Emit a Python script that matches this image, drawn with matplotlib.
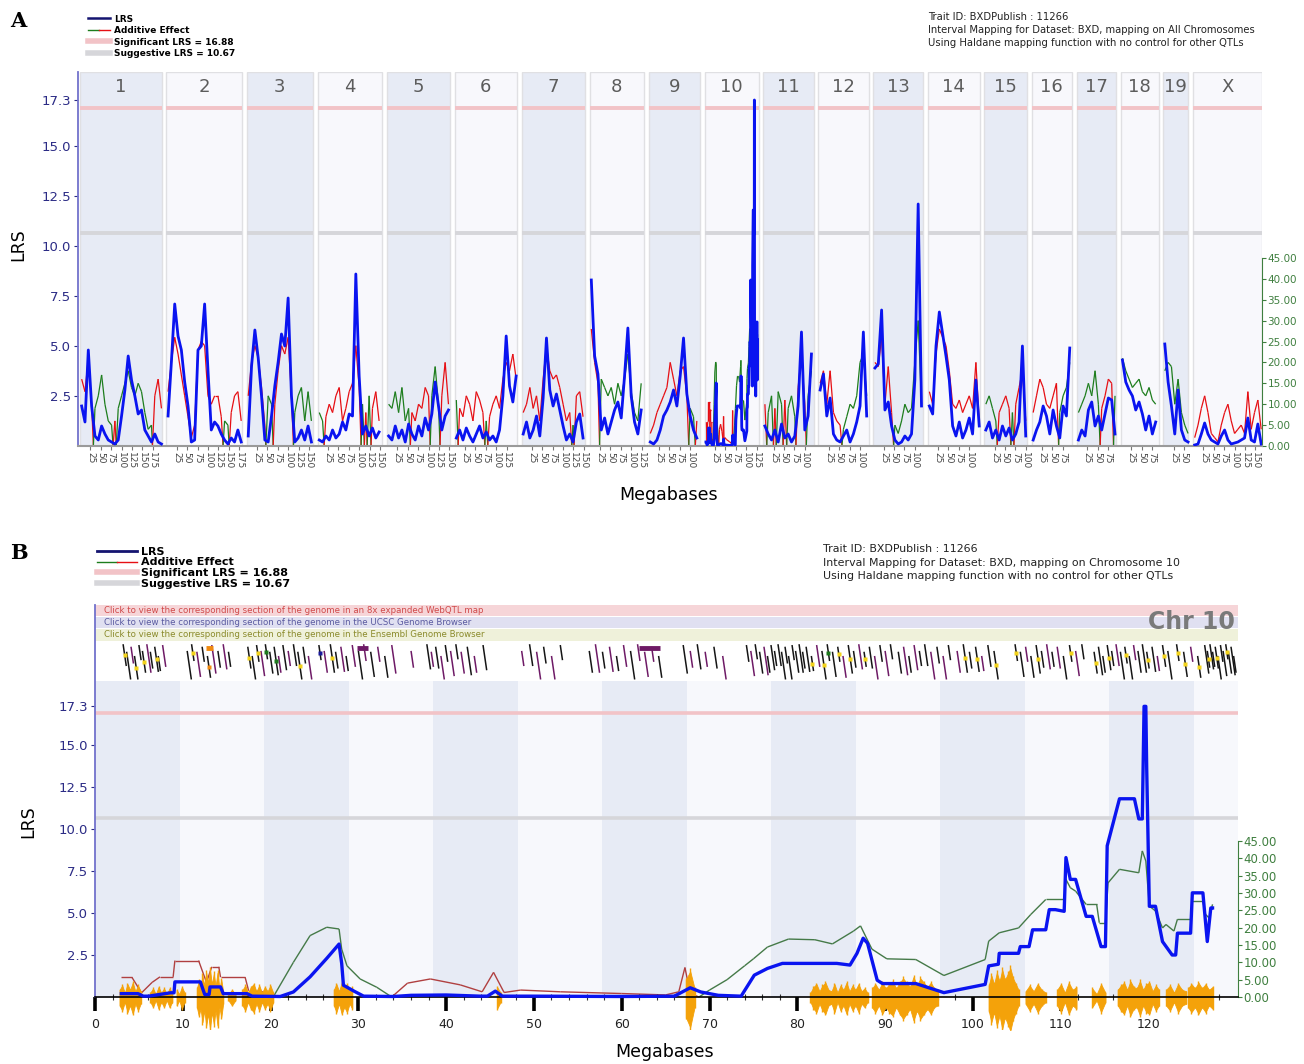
import numpy as np
import matplotlib.pyplot as plt
from matplotlib.lines import Line2D
from matplotlib.legend_handler import HandlerTuple
from matplotlib.collections import LineCollection

plt.rcParams['font.family'] = ['DejaVu Sans']

W, H = 1304, 1064

# ---------------- genome-wide scan (panel A) ----------------
CHROMS = ['1', '2', '3', '4', '5', '6', '7', '8', '9', '10',
          '11', '12', '13', '14', '15', '16', '17', '18', '19', 'X']
CHR_LEN = [197, 182, 160, 156, 152, 150, 153, 131, 124, 130,
           122, 121, 120, 125, 103, 98, 95, 91, 61, 166]

# LRS and additive effect every 8 Mb (first marker at 4 Mb); additive > 0 = red, < 0 = green
LRS_1 = [2.0, 1.2, 4.8, 2.0, 0.5, 0.3, 1.0, 0.6, 0.3, 0.2, 0.1, 0.3, 1.5, 2.8, 4.5, 3.3, 2.5, 1.6, 1.8, 0.8, 0.5, 0.2, 0.6, 0.2, 0.1]
ADD_1 = [16, 13, 21, 10, -9, -12, -17, -10, -6, -5, 6, -9, -12, -15, -18, -14, -12, -15, -13, -8, -4, -5, 12, 16, 9]
LRS_2 = [1.5, 4.2, 7.1, 5.5, 4.8, 3.2, 2.0, 0.2, 0.3, 4.8, 5.0, 7.1, 3.8, 0.8, 1.2, 1.0, 0.6, 0.3, 0.1, 0.4, 0.2, 0.8, 0.2]
ADD_2 = [13, 20, 26, 22, 17, 12, 7, 2, 5, 23, 25, 24, 12, 10, 12, 12, 7, -6, -5, 8, 12, 13, 6]
LRS_3 = [0.5, 4.0, 5.8, 4.4, 2.5, 0.3, 0.2, 1.5, 3.0, 4.2, 5.6, 5.0, 7.4, 2.5, 0.2, 0.4, 0.8, 0.3, 1.0, 0.2]
ADD_3 = [12, 20, 24, 21, 14, 5, -12, -10, 10, 18, 24, 22, 26, 12, -8, -12, -14, -6, -13, -6]
LRS_4 = [0.3, 0.2, 0.5, 0.3, 0.8, 0.4, 0.6, 1.2, 0.8, 1.6, 1.5, 8.6, 3.5, 0.6, 1.0, 0.5, 0.9, 0.4, 0.7]
ADD_4 = [-8, -6, 7, 10, 8, 12, 14, 6, 9, 13, 15, 24, 14, -10, 8, -12, 9, 13, 6]
LRS_5 = [0.5, 0.3, 1.0, 0.4, 0.8, 0.2, 1.1, 0.6, 0.3, 1.0, 0.5, 1.4, 0.8, 1.6, 3.2, 2.0, 0.8, 1.5, 1.8]
ADD_5 = [-10, -9, -13, -8, -14, -6, -9, 8, 6, 10, 9, 14, 12, -12, -19, -10, 12, 20, 10]
LRS_6 = [0.4, 0.8, 0.3, 0.9, 0.5, 0.2, 0.6, 1.0, 0.4, 0.7, 0.3, 0.5, 0.2, 0.8, 2.5, 5.5, 3.0, 2.2, 3.5]
ADD_6 = [-11, 9, 7, 12, 10, 6, 13, 11, 8, -6, 7, 10, 12, 9, 16, 20, 18, 22, 16]
LRS_7 = [0.6, 1.2, 0.4, 0.8, 1.5, 0.5, 2.4, 5.4, 2.8, 2.0, 2.6, 1.8, 1.0, 0.3, 0.6, 0.2, 1.2, 1.6, 0.4]
ADD_7 = [8, 10, 14, 9, 12, 6, 16, 24, 18, 16, 17, 14, 10, 6, 8, -5, 12, 13, 7]
LRS_8 = [8.3, 4.5, 3.6, 0.8, 1.4, 0.6, 1.2, 1.8, 2.2, 1.4, 3.5, 5.9, 2.5, 1.2, 0.6, 1.8]
ADD_8 = [28, 20, 15, -16, -14, -12, -14, -10, -15, -12, -16, -22, -13, -8, -6, -15]
LRS_9 = [0.2, 0.1, 0.3, 0.8, 1.5, 1.8, 2.2, 2.8, 2.0, 3.5, 5.4, 2.6, 1.5, 0.8, 0.4]
ADD_9 = [3, 5, 8, 10, 12, 14, 20, 16, 12, 18, 19, 12, -9, -7, 6]
LRS_11 = [1.0, 0.6, 0.3, 0.8, 0.2, 1.1, 0.4, 0.6, 0.2, 0.5, 2.0, 5.7, 0.8, 1.5, 4.6]
ADD_11 = [10, -8, -12, 9, -13, -10, 11, -9, -12, -7, 14, 22, 10, -12, -18]
LRS_12 = [2.8, 3.6, 1.5, 2.4, 0.6, 0.3, 0.2, 0.5, 0.8, 0.2, 0.6, 1.2, 2.0, 5.7, 1.5]
ADD_12 = [15, 18, 10, 18, 8, 6, 5, -4, -7, -10, -9, -12, -20, -22, -12]
LRS_13 = [3.9, 4.1, 6.8, 1.8, 2.2, 1.0, 0.3, 0.1, 0.2, 0.5, 0.3, 0.6, 3.3, 12.1, 2.0]
ADD_13 = [20, 19, 26, 10, 19, 8, -5, -3, -6, -10, -8, -9, -20, -30, -10]
LRS_14 = [2.0, 1.6, 5.0, 6.7, 5.6, 4.5, 3.3, 1.0, 0.5, 1.2, 0.4, 0.8, 1.4, 0.6, 3.3, 1.0]
ADD_14 = [13, 10, 22, 28, 26, 24, 18, 10, 9, 11, 8, 10, 12, 9, 20, 6]
LRS_15 = [0.8, 1.2, 0.4, 0.8, 0.3, 1.0, 0.5, 0.9, 0.3, 0.6, 1.2, 5.0, 0.5]
ADD_15 = [-10, -12, -9, -6, 8, 10, 12, 9, -8, 10, 14, 18, 6]
LRS_16 = [0.3, 0.8, 1.2, 2.0, 1.5, 0.6, 1.8, 1.0, 0.4, 2.0, 1.5, 4.9]
ADD_16 = [8, 12, 16, 14, 10, 9, 12, 15, -8, -12, -14, -20]
LRS_17 = [0.3, 0.8, 0.5, 1.8, 2.2, 1.0, 1.5, 0.8, 1.6, 2.4, 2.3, 0.6]
ADD_17 = [-8, -10, -12, -15, -12, -18, -10, 9, 12, 16, 15, -12]
LRS_18 = [4.3, 3.2, 2.8, 2.5, 1.8, 2.2, 1.6, 0.8, 1.5, 0.6, 1.2]
ADD_18 = [-21, -18, -16, -14, -15, -16, -13, -12, -14, -11, -10]
LRS_19 = [5.1, 3.2, 2.0, 0.6, 2.8, 0.8, 0.3, 0.2]
ADD_19 = [-18, -20, -19, -10, -16, -8, -5, -3]
LRS_X = [0.05, 0.1, 0.6, 1.15, 0.6, 0.3, 0.2, 0.1, 0.5, 0.8, 0.3, 0.1, 0.15, 0.2, 0.3, 0.4, 1.4, 0.3, 0.2, 1.1, 0.1]
ADD_X = [2, 5, 9, 12, 8, 3, 2, 1, 5, 8, 10, 6, 3, 4, 5, 3, 13, 4, 8, 11, 4]

# ---------------- chromosome 10 detail (panel B, also used in A) ----------------
CHR10_MB = [3.0, 4.9, 5.5, 6.1, 8.6, 9.0, 9.1, 12.0, 12.5, 13.0, 13.1, 14.3, 14.6, 17.3, 17.9, 21.1,
            22.6, 24.5, 26.4, 27.8, 28.1, 28.3, 29.5, 30.6, 34.0, 36.0, 40.0, 43.9, 44.7, 45.6, 46.4,
            50.0, 60.0, 66.0, 67.8, 69.0, 71.0, 73.6, 75.1, 76.6, 78.3, 84.5, 86.0, 86.8, 87.5, 88.0,
            88.5, 89.1, 89.7, 93.5, 96.7, 101.4, 101.8, 102.9, 103.0, 105.2, 105.4, 106.4, 106.8,
            108.3, 108.7, 109.4, 110.4, 110.6, 111.1, 111.7, 112.9, 113.6, 114.6, 115.1, 115.3,
            116.7, 118.4, 118.9, 119.3, 119.5, 119.7, 119.8, 120.1, 120.8, 121.6, 122.7, 123.1,
            123.3, 124.8, 125.0, 126.2, 126.7, 127.1, 127.3]
CHR10_LRS = [0.2, 0.2, 0.05, 0.05, 0.25, 0.25, 0.9, 0.9, 0.15, 0.15, 0.6, 0.6, 0.2, 0.2, 0.05, 0.03,
             0.3, 1.2, 2.3, 3.15, 2.0, 0.7, 0.35, 0.05, 0.03, 0.1, 0.12, 0.05, 0.05, 0.35, 0.05,
             0.05, 0.03, 0.05, 0.55, 0.3, 0.1, 0.05, 1.3, 1.7, 2.0, 2.0, 1.9, 2.6, 3.5, 3.2,
             2.2, 1.0, 0.8, 0.8, 0.26, 0.75, 1.85, 1.95, 2.6, 2.6, 3.0, 3.0, 4.0,
             4.0, 5.2, 5.2, 5.1, 8.3, 7.0, 7.0, 4.8, 4.8, 3.0, 3.0, 9.0,
             11.8, 11.8, 10.6, 10.6, 17.3, 17.3, 13.6, 5.4, 5.4, 3.3, 2.5, 2.5,
             3.8, 3.8, 6.2, 6.2, 3.3, 5.3, 5.3]
CHR10_ADD_MB = [3.0, 4.2, 5.3, 6.5, 7.4, 8.9, 9.1, 11.8, 12.7, 13.3, 14.1, 14.3, 17.1, 17.5, 18.8, 20.3,
                22.6, 24.5, 26.4, 27.8, 28.1, 28.7, 30.2, 32.1, 33.8, 35.6, 38.2, 41.6, 44.1, 45.4,
                46.6, 48.5, 53.0, 60.0, 65.0, 66.5, 67.2, 67.8, 68.8, 70.0, 72.0, 74.0, 75.0, 76.6,
                79.0, 82.0, 84.0, 86.4, 87.2, 88.5, 90.2, 93.5, 96.7, 101.4, 101.8, 103.0, 105.2,
                106.6, 108.3, 110.4, 110.6, 111.1, 111.7, 112.9, 114.1, 114.4, 115.1, 115.4, 116.7,
                118.9, 119.3, 119.7, 120.1, 120.8, 121.6, 122.0, 122.9, 123.3, 124.8, 125.0, 126.2,
                126.5, 126.9, 127.3]
CHR10_ADD = [5.7, 5.7, 1.2, 4.2, 5.8, 5.8, 10.5, 10.5, 4.2, 8.7, 8.7, 5.7, 5.7, 1.8, 1.8, 0.0,
             -10.0, -17.7, -20.1, -19.6, -13.8, -9.0, -5.2, -2.8, 0.0, 4.0, 5.2, 3.5, 1.5, 7.1,
             1.3, 2.0, 1.5, 1.0, 0.6, 1.5, 8.5, 1.0, 0.0, -2.0, -5.0, -9.0, -11.0, -14.4,
             -16.7, -16.5, -15.3, -19.0, -20.5, -13.8, -11.0, -10.8, -6.2, -10.8, -16.1, -18.5, -19.9,
             -23.8, -28.1, -28.1, -33.9, -31.5, -30.5, -26.7, -26.7, -21.4, -21.4, -32.9, -36.8,
             -35.8, -42.1, -39.2, -26.2, -24.8, -19.9, -20.9, -19.0, -22.4, -22.4, -27.6, -27.6,
             -23.8, -22.8, -26.7]

# SNP density blocks on chromosome 10 (Mb range and amplitude profile)
SNP_START = [2.8, 6.3, 9.3, 11.6, 15.2, 16.8, 27.2, 45.8, 67.3, 81.5, 88.5,
             101.8, 106.0, 109.6, 113.6, 116.5, 122.0, 124.5]
SNP_END = [5.2, 8.8, 10.2, 14.6, 16.0, 20.3, 29.3, 46.2, 68.3, 88.0, 96.0,
           105.2, 108.3, 111.8, 115.1, 121.2, 124.3, 127.3]
SNP_AMP = [
    [0.5, 0.8, 0.3, 0.9, 0.5, 1.0, 0.4, 0.8, 0.4],
    [0.3, 0.6, 0.2, 0.7, 0.3, 0.6, 0.2, 0.6, 0.3],
    [0.5, 0.2, 0.7, 0.3],
    [0.6, 1.1, 0.7, 1.5, 0.8, 1.7, 1.0, 1.9, 0.9, 1.6, 0.8, 1.7, 0.6, 1.2, 0.4],
    [0.2, 0.5, 0.2],
    [0.5, 0.8, 0.3, 0.7, 0.9, 0.4, 0.8, 0.3, 0.7, 0.4, 0.8, 0.3],
    [0.5, 0.9, 0.4, 1.0, 0.6, 0.9, 0.4, 0.7],
    [0.7, 0.3],
    [1.2, 1.8, 0.6],
    [0.3, 0.7, 0.9, 0.4, 0.8, 1.0, 0.5, 0.4, 0.9, 0.3, 0.8, 0.5, 1.0, 0.4, 0.8, 0.5, 0.9, 0.4, 0.6, 0.3],
    [0.6, 0.9, 0.5, 1.0, 0.6, 0.9, 1.1, 0.6, 1.0, 1.3, 1.0, 0.7, 1.4, 0.8, 1.3, 1.0, 0.7, 1.0, 0.6, 0.5],
    [0.8, 1.5, 0.9, 1.7, 1.1, 1.9, 1.2, 1.6, 2.0, 1.3, 0.9, 0.5],
    [0.4, 0.8, 0.4, 0.9, 0.5, 0.3],
    [0.5, 0.9, 0.3, 1.0, 0.5, 0.7],
    [0.6, 0.2, 0.9, 0.3],
    [0.5, 0.8, 1.0, 0.5, 1.1, 0.7, 0.6, 1.1, 0.5, 0.9, 1.0, 0.4, 0.8, 0.5],
    [0.5, 0.8, 0.3, 0.9, 0.5, 0.4],
    [0.6, 0.9, 0.6, 1.0, 0.6, 0.9, 0.5, 0.7],
]

# gene track: position (Mb) and glyph colour code
GENE_MB = [3.2, 3.6, 4.1, 4.5, 5.0, 5.4, 5.9, 6.3, 6.8, 7.2, 7.7,
           10.5, 11.0, 11.6, 12.2, 12.8, 13.3, 14.0, 14.6, 15.2,
           17.4, 17.9, 18.4, 18.9, 19.4, 19.9, 20.4, 20.9, 21.4, 22.0, 22.6, 23.1, 23.7, 24.3,
           25.5, 26.1, 26.8, 27.4, 28.0, 28.6, 29.3, 30.0, 30.6, 31.4, 32.2, 33.0, 33.8,
           36.0, 37.8, 38.3, 38.8, 39.4, 39.9, 40.5, 41.1, 41.7, 42.4, 43.2, 44.2,
           48.6, 49.5, 50.3, 51.1, 52.0, 53.0,
           56.3, 57.0, 57.8, 58.6, 59.4, 60.2, 61.0, 61.8, 62.6, 63.4, 64.2,
           67.0, 67.8, 68.6, 69.5, 70.5, 71.5,
           74.2, 74.7, 75.2, 75.7, 76.2, 76.6, 77.0, 77.4, 77.8, 78.2, 78.6, 79.0, 79.4, 79.8, 80.2, 80.6, 81.0,
           81.6, 82.2, 82.8, 83.4, 84.0, 84.6, 85.2, 85.8, 86.4, 87.0, 87.6, 88.2, 88.8, 89.4, 90.0, 90.6,
           91.5, 92.1, 92.7, 93.3, 93.9, 94.5, 95.2, 95.9, 96.6, 97.2,
           98.2, 98.9, 99.6, 100.3, 101.0, 101.7, 102.4,
           104.8, 105.4, 106.0, 106.6, 107.2, 107.8, 108.4, 109.0, 109.6, 110.3, 111.0, 111.7, 112.4,
           113.8, 114.3, 114.8, 115.3, 115.8, 116.3, 116.8, 117.3, 117.8, 118.3, 118.8, 119.3, 119.8,
           120.4, 121.0, 121.6, 122.2,
           123.2, 124.0, 124.8, 125.6,
           126.4, 126.7, 127.0, 127.3, 127.6, 127.9, 128.2, 128.5, 128.8, 129.1, 129.4, 129.7]
GENE_KIND = ('ykpykypkykp' + 'kypkopkpk' + 'ykypgkgpkpkykp' + 'bpykpkpkpkpkp' + 'pkpkpkpkpkpk'
             + 'pkpkpk' + 'kpkpkpkpppk' + 'kpkpkp' + 'kpkkpk' + 'k' * 11 + 'ypygkypykpykpkpk'
             + 'kpkpkkpkpk' + 'pykypky' + 'ykpkykpkpkypk' + 'ykkykpkykpkkykpyk' + 'yypy'
             + 'kykkykkkykkk')
WIDE_START = [12.6, 29.9, 62.0]
WIDE_END = [13.4, 31.1, 64.4]
WIDE_KIND = 'opp'

SIG_LRS = 16.88
SUG_LRS = 10.67
LRS_TICKS = [2.5, 5.0, 7.5, 10.0, 12.5, 15.0, 17.3]
ADD_TICKS = [0, 5, 10, 15, 20, 25, 30, 35, 40, 45]

# colours
BLUE = '#0a14f0'
RED_A, GREEN_A = '#e60f14', '#1d7d1d'
RED_B, GREEN_B = '#b04040', '#457a48'
SIG_C, SUG_C = '#f2c3c7', '#d6d6da'
SHADE, LIGHT = '#e7ebf5', '#f8f8fc'
NAVY = '#2b2b85'
AXIS_BLUE = '#7272cc'
ADD_AXIS = '#3f7f3f'
GENE_COL = {'k': '#151515', 'p': '#6e1a66', 'y': '#f2d21a', 'g': '#1d7a1d',
            'o': '#f08a10', 'b': '#1a1a9a'}


def box(l, t, r, b):
    return [l / W, 1 - b / H, (r - l) / W, (b - t) / H]


def signed_segments(x, a, red, green):
    segs, cols = [], []
    for x0, x1, a0, a1 in zip(x[:-1], x[1:], a[:-1], a[1:]):
        if a0 * a1 < 0:
            xc = x0 + (x1 - x0) * a0 / (a0 - a1)
            segs += [[(x0, abs(a0)), (xc, 0)], [(xc, 0), (x1, abs(a1))]]
            cols += [red if a0 > 0 else green, red if a1 > 0 else green]
        else:
            segs.append([(x0, abs(a0)), (x1, abs(a1))])
            cols.append(red if a0 + a1 > 0 else green)
    return segs, cols


fig = plt.figure(figsize=(W / 100, H / 100), dpi=100)

# ======================= panel A =======================
GAP = 10.9
offsets = []
p = 0.0
for L in CHR_LEN:
    offsets.append(p)
    p += L + GAP

lrs_all = [LRS_1, LRS_2, LRS_3, LRS_4, LRS_5, LRS_6, LRS_7, LRS_8, LRS_9, None,
           LRS_11, LRS_12, LRS_13, LRS_14, LRS_15, LRS_16, LRS_17, LRS_18, LRS_19, LRS_X]
add_all = [ADD_1, ADD_2, ADD_3, ADD_4, ADD_5, ADD_6, ADD_7, ADD_8, ADD_9, None,
           ADD_11, ADD_12, ADD_13, ADD_14, ADD_15, ADD_16, ADD_17, ADD_18, ADD_19, ADD_X]

axA = fig.add_axes(box(78, 72, 1262, 446))
axA2 = axA.twinx()
axA.set_zorder(axA2.get_zorder() + 1)
axA.patch.set_visible(False)

xmaxA = offsets[-1] + CHR_LEN[-1]
axA.set_xlim(-4.8, xmaxA)
axA.set_ylim(0, 18.7)
axA2.set_ylim(0, (446 - 72) / 4.18)

for i, (name, off, L) in enumerate(zip(CHROMS, offsets, CHR_LEN)):
    axA2.axvspan(off, off + L, facecolor=SHADE if i % 2 == 0 else LIGHT,
                 edgecolor='#e0e0e3', lw=1.0, zorder=0)
    axA.hlines(SIG_LRS, off, off + L, color=SIG_C, lw=2.8, zorder=1)
    axA.hlines(SUG_LRS, off, off + L, color=SUG_C, lw=2.8, zorder=1)
    axA.text(off + L / 2, 17.95, name, ha='center', va='center', fontsize=13, color='#5c5c5c')
    if lrs_all[i] is None:
        x = off + np.array(CHR10_MB)
        y = CHR10_LRS
        xa = off + np.array(CHR10_ADD_MB)
        a = CHR10_ADD
    else:
        x = off + 4 + 8 * np.arange(len(lrs_all[i]))
        y = lrs_all[i]
        xa = x
        a = add_all[i]
    segs, cols = signed_segments(list(xa), list(a), RED_A, GREEN_A)
    axA2.add_collection(LineCollection(segs, colors=cols, linewidths=0.9, zorder=2))
    axA.plot(x, y, color=BLUE, lw=2.0, zorder=4)

tick_pos, tick_lab = [], []
for off, L in zip(offsets, CHR_LEN):
    for m in range(25, L, 25):
        tick_pos.append(off + m)
        tick_lab.append(str(m))
axA.set_xticks(tick_pos)
axA.set_xticklabels(tick_lab, rotation=-90, fontsize=6.5, color='#444444')
axA.tick_params(axis='x', length=3, width=0.8, color='#777777', pad=1.5)
axA.set_yticks(LRS_TICKS)
axA.set_yticklabels(['%.1f' % t for t in LRS_TICKS], fontsize=9.5, color=NAVY)
axA.tick_params(axis='y', length=3, color=NAVY, pad=2)
for s in ['top', 'right']:
    axA.spines[s].set_visible(False)
axA.spines['left'].set_color(AXIS_BLUE)
axA.spines['left'].set_linewidth(1.3)
axA.spines['bottom'].set_color('#9a9a9a')
axA.spines['bottom'].set_linewidth(1.5)

for s in ['top', 'left', 'bottom']:
    axA2.spines[s].set_visible(False)
axA2.spines['right'].set_bounds(0, 45)
axA2.spines['right'].set_color(ADD_AXIS)
axA2.set_yticks(ADD_TICKS)
axA2.set_yticklabels(['%.2f' % t for t in ADD_TICKS], fontsize=7.5, color=ADD_AXIS)
axA2.tick_params(axis='y', length=3, color=ADD_AXIS, pad=1)

fig.text(18 / W, 1 - 245 / H, 'LRS', rotation=90, ha='center', va='center', fontsize=12.5)
fig.text(669 / W, 1 - 495 / H, 'Megabases', ha='center', va='center', fontsize=12.5)

# ======================= panel B =======================
X_MAX_B = 130.2
axB = fig.add_axes(box(95, 605, 1238, 1030))
axB2 = axB.twinx()
axB.set_zorder(axB2.get_zorder() + 1)
axB.patch.set_visible(False)
axB.set_xlim(0, X_MAX_B)
yb0, yb1 = -(1030 - 997) / 16.8, (997 - 605) / 16.8
axB.set_ylim(yb0, yb1)
axB2.set_ylim(-(1030 - 997) / 3.47, (997 - 605) / 3.47)

# plot area background with alternating bands
f0 = (0 - yb0) / (yb1 - yb0)
f1 = (18.8 - yb0) / (yb1 - yb0)
axB2.axvspan(0, X_MAX_B, ymin=f0, ymax=f1, facecolor='#f7f8fc', lw=0, zorder=0)
for s in np.arange(0, X_MAX_B, 19.25):
    axB2.axvspan(s, min(s + 9.7, X_MAX_B), ymin=f0, ymax=f1, facecolor=SHADE, lw=0, zorder=0)

# clickable browser bands
axB.axhspan(22.66, yb1, facecolor='#f6d5d8', lw=0, zorder=1)
axB.axhspan(21.94, 22.62, facecolor='#e0e0f1', lw=0, zorder=1)
axB.axhspan(21.22, 21.9, facecolor='#eff1da', lw=0, zorder=1)
axB.text(1.0, 22.99, 'Click to view the corresponding section of the genome in an 8x expanded WebQTL map',
         fontsize=6.2, color='#d04a4a', va='center', zorder=2)
axB.text(1.0, 22.28, 'Click to view the corresponding section of the genome in the UCSC Genome Browser',
         fontsize=6.2, color='#5a5aa0', va='center', zorder=2)
axB.text(1.0, 21.56, 'Click to view the corresponding section of the genome in the Ensembl Genome Browser',
         fontsize=6.2, color='#8a8a2a', va='center', zorder=2)
axB.text(X_MAX_B - 0.3, 22.3, 'Chr 10', fontsize=17, fontweight='bold', color='#7a7a7a',
         ha='right', va='center', zorder=3)

# gene glyphs
tops = [21.0, 20.55, 20.85, 20.3, 20.95, 20.6]
lens = [1.3, 1.7, 1.0, 1.5, 0.9]
for i, (g, kind) in enumerate(zip(GENE_MB, GENE_KIND)):
    yt = tops[i % len(tops)]
    yl = lens[i % len(lens)]
    yb = max(yt - yl, 18.9)
    lc = GENE_COL['p'] if kind == 'p' else GENE_COL['k']
    axB.plot([g, g + 0.28 * (yt - yb)], [yt, yb], color=lc, lw=1.1, zorder=2,
             solid_capstyle='butt')
    if kind not in 'kp':
        ym = (yt + yb) / 2
        axB.plot([g + 0.14 * (yt - yb)], [ym], marker='s', ms=3.2, color=GENE_COL[kind],
                 mec='none', zorder=3)
for s, e, kind in zip(WIDE_START, WIDE_END, WIDE_KIND):
    axB.plot([s, e], [20.75, 20.75], color=GENE_COL[kind], lw=3.5, zorder=3,
             solid_capstyle='butt')

# threshold lines
axB.axhline(SIG_LRS, color=SIG_C, lw=2.6, zorder=1)
axB.axhline(SUG_LRS, color=SUG_C, lw=2.6, zorder=1)

# SNP density
for s, e, amps in zip(SNP_START, SNP_END, SNP_AMP):
    xs = np.linspace(s, e, len(amps))
    amps = np.array(amps)
    axB.fill_between(xs, -amps, 0.85 * amps, color='#f4a20a', lw=0.6, zorder=2)
    axB.vlines(xs, -amps * 1.1, amps * 0.95, color='#f4a20a', lw=1.0, zorder=2)

# additive effect and LRS
segs, cols = signed_segments(CHR10_ADD_MB, CHR10_ADD, RED_B, GREEN_B)
axB2.add_collection(LineCollection(segs, colors=cols, linewidths=1.0, zorder=2))
axB.plot(CHR10_MB, CHR10_LRS, color=BLUE, lw=2.4, zorder=5)

# axes styling
axB.spines['top'].set_visible(False)
axB.spines['right'].set_visible(False)
axB.spines['left'].set_bounds(0, yb1)
axB.spines['left'].set_color(AXIS_BLUE)
axB.spines['left'].set_linewidth(1.3)
axB.spines['bottom'].set_position(('data', 0))
axB.spines['bottom'].set_linewidth(1.2)
axB.set_xticks(list(range(0, 121, 10)))
axB.set_xticks(list(range(0, 129, 2)), minor=True)
axB.tick_params(axis='x', which='major', length=10, width=2.6, color='black', pad=5,
                labelsize=9, labelcolor='#222222')
axB.tick_params(axis='x', which='minor', length=4, width=0.8, direction='inout', color='#333333')
axB.set_yticks(LRS_TICKS)
axB.set_yticklabels(['%.1f' % t for t in LRS_TICKS], fontsize=9.5, color=NAVY)
axB.tick_params(axis='y', length=3, color=NAVY, pad=2)

for s in ['top', 'left', 'bottom']:
    axB2.spines[s].set_visible(False)
axB2.spines['right'].set_bounds(0, 45)
axB2.spines['right'].set_color(ADD_AXIS)
axB2.set_yticks(ADD_TICKS)
axB2.set_yticklabels(['%.2f' % t for t in ADD_TICKS], fontsize=8.5, color=ADD_AXIS)
axB2.tick_params(axis='y', length=3, color=ADD_AXIS, pad=1)

fig.text(28 / W, 1 - 822 / H, 'LRS', rotation=90, ha='center', va='center', fontsize=12.5)
fig.text(665 / W, 1 - 1052 / H, 'Megabases', ha='center', va='center', fontsize=12.5)

# ======================= legends and captions =======================
def legend_handles(lw_main):
    return [Line2D([], [], color='#141470', lw=lw_main),
            (Line2D([], [], color=GREEN_A, lw=1.0), Line2D([], [], color=RED_A, lw=1.0)),
            Line2D([], [], color=SIG_C, lw=4),
            Line2D([], [], color=SUG_C, lw=4)]


LEG_LABELS = ['LRS', 'Additive Effect', 'Significant LRS = 16.88', 'Suggestive LRS = 10.67']

fig.legend(legend_handles(1.8), LEG_LABELS, loc='upper left', bbox_to_anchor=(83 / W, 1 - 10 / H),
           frameon=False, prop={'weight': 'bold', 'size': 6.5}, handlelength=2.5,
           handletextpad=0.4, labelspacing=0.28, borderpad=0,
           handler_map={tuple: HandlerTuple(ndivide=None, pad=0)})
fig.legend(legend_handles(2.0), LEG_LABELS, loc='upper left', bbox_to_anchor=(91 / W, 1 - 541 / H),
           frameon=False, prop={'weight': 'bold', 'size': 8}, handlelength=3.6,
           handletextpad=0.4, labelspacing=0.08, borderpad=0,
           handler_map={tuple: HandlerTuple(ndivide=None, pad=0)})

trait_a = ['Trait ID: BXDPublish : 11266',
           'Interval Mapping for Dataset: BXD, mapping on All Chromosomes',
           'Using Haldane mapping function with no control for other QTLs']
for k, t in enumerate(trait_a):
    fig.text(928 / W, 1 - (17 + 13 * k) / H, t, fontsize=7.2, va='center', color='#222222')
trait_b = ['Trait ID: BXDPublish : 11266',
           'Interval Mapping for Dataset: BXD, mapping on Chromosome 10',
           'Using Haldane mapping function with no control for other QTLs']
for k, t in enumerate(trait_b):
    fig.text(823 / W, 1 - (549 + 13.5 * k) / H, t, fontsize=7.9, va='center', color='#222222')

fig.text(10 / W, 1 - 21 / H, 'A', fontsize=15, fontweight='bold', family='DejaVu Serif', va='center')
fig.text(10 / W, 1 - 553 / H, 'B', fontsize=15, fontweight='bold', family='DejaVu Serif', va='center')

fig.savefig('out.png', dpi=100)
